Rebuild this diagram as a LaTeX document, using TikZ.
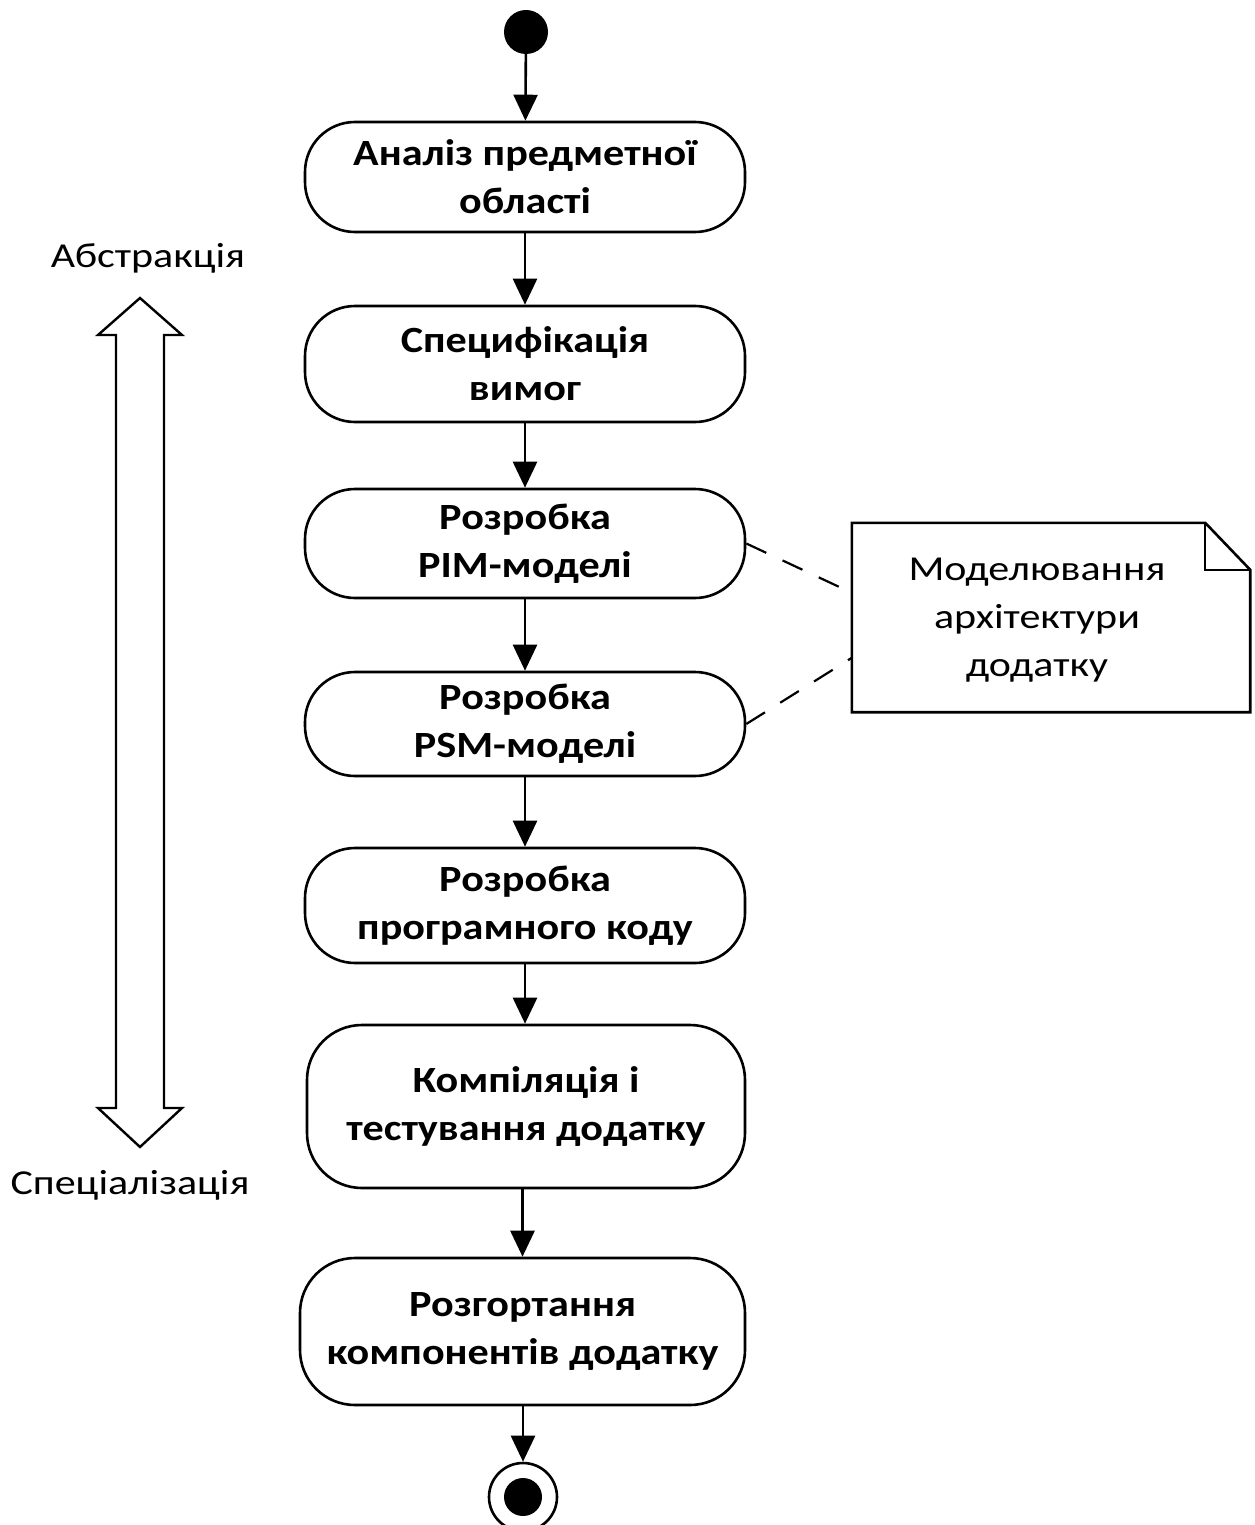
\documentclass[tikz,border=0pt]{standalone}
\usepackage{fontspec}
\setmainfont{Carlito}
\newfontfamily\boldwide[FakeStretch=1.14]{Carlito Bold}
\newfontfamily\regwide[FakeStretch=1.2]{Carlito}
\usetikzlibrary{arrows.meta,calc}
\begin{document}
\begin{tikzpicture}[x=1pt,y=-1pt,
  act/.style={draw,line width=2.6pt,rounded corners=50pt,minimum width=440pt,align=center,
    font=\boldwide\fontsize{37}{48}\selectfont,inner sep=0pt},
  arr/.style={line width=2.6pt,-{Triangle[width=24pt,length=26pt]}},
  lab/.style={font=\regwide\fontsize{35}{44}\selectfont},
  notetext/.style={align=center,font=\regwide\fontsize{35}{48}\selectfont,inner sep=0pt},
  dashline/.style={line width=2.2pt,dash pattern=on 22pt off 18pt}]
\useasboundingbox (0,0) rectangle (1254,1525);
\node[circle,fill=black,minimum size=44pt,inner sep=0pt] (s) at (526,32) {};
\node[act,minimum height=110pt] (b1) at (525,177) {\raisebox{-5pt}{\parbox{430pt}{\centering Аналіз предметної\\області}}};
\node[act,minimum height=116pt] (b2) at (525,364) {Специфікація\\вимог};
\node[act,minimum height=109pt] (b3) at (525,543.5) {Розробка\\PIM-моделі};
\node[act,minimum height=104pt] (b4) at (525,724) {Розробка\\PSM-моделі};
\node[act,minimum height=115pt] (b5) at (525,905.5) {Розробка\\програмного коду};
\node[act,minimum height=163pt,minimum width=438pt,rounded corners=55pt] (b6) at (526,1106.5) {Компіляція і\\тестування додатку};
\node[act,minimum height=147pt,minimum width=445pt,rounded corners=55pt] (b7) at (522.5,1331.5) {Розгортання\\компонентів додатку};
\node[circle,draw,line width=2.6pt,minimum size=68pt,inner sep=0pt] (e) at (523,1497) {};
\node[circle,fill=black,minimum size=38pt,inner sep=0pt] (ei) at (e.center) {};
\draw[arr] (s) -- (b1);
\draw[arr] (b1) -- (b2);
\draw[arr] (b2) -- (b3);
\draw[arr] (b3) -- (b4);
\draw[arr] (b4) -- (b5);
\draw[arr] (b5) -- (b6.north -| b5);
\draw[arr] (b6.south -| b7.north) -- (b7.north);
\draw[arr] (b7.south -| e.north) -- (e.north);
% note
\node[draw=none,minimum width=398pt,minimum height=189pt,inner sep=0pt] (n) at (1051,617.5) {};
\node[notetext] (nt) at (1037,620) {Моделювання\\архітектури\\додатку};
\draw[line width=2.6pt] (n.north west) -- ($(n.north east)+(-45,0)$) -- ($(n.north east)+(0,47)$) -- (n.south east) -- (n.south west) -- cycle;
\draw[line width=2.2pt] ($(n.north east)+(-45,0)$) -- ($(n.north east)+(-45,47)$) -- ($(n.north east)+(0,47)$);
\coordinate (n1) at ($(n.north west)+(0,70)$);
\coordinate (n2) at ($(n.north west)+(0,135)$);
\draw[dashline] (b3.east) -- (n1);
\draw[dashline] (b4.east) -- (n2);
% double arrow
\draw[line width=2.4pt,line join=miter]
  (140,298) -- (182,335) -- (164,335) -- (164,1108) -- (182,1108) -- (140,1147)
  -- (98,1108) -- (116,1108) -- (116,335) -- (98,335) -- cycle;
\node[lab] (abs) at (148,258) {Абстракція};
\node[lab] (spec) at (130,1185) {Спеціалізація};
\end{tikzpicture}
\end{document}
